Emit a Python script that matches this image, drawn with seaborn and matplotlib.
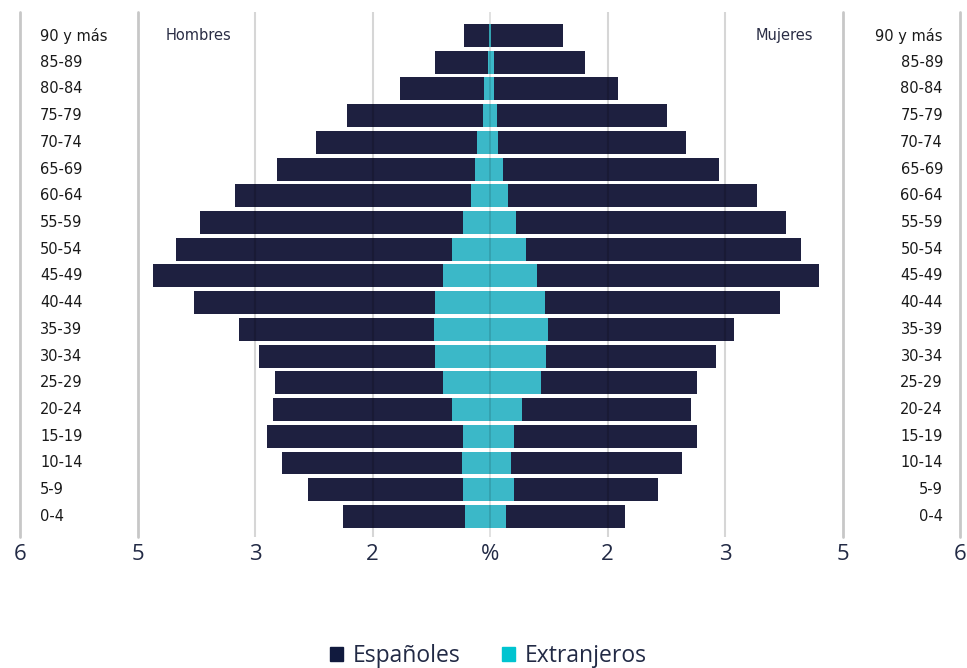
import numpy as np
import pandas as pd
import seaborn as sns
import matplotlib.pyplot as plt
from matplotlib.patches import Patch

# Grupos de edad (de arriba a abajo)
grupos = [
    "90 y más", "85-89", "80-84", "75-79", "70-74", "65-69", "60-64",
    "55-59", "50-54", "45-49", "40-44", "35-39", "30-34", "25-29",
    "20-24", "15-19", "10-14", "5-9", "0-4",
]

# Valores (unidades de la escala del eje)
hombres_ext = [0.01, 0.02, 0.05, 0.06, 0.11, 0.13, 0.16, 0.23, 0.32, 0.40,
               0.47, 0.48, 0.47, 0.40, 0.32, 0.23, 0.24, 0.23, 0.21]
hombres_esp = [0.21, 0.45, 0.72, 1.16, 1.37, 1.68, 2.01, 2.24, 2.35, 2.47,
               2.05, 1.66, 1.50, 1.43, 1.53, 1.67, 1.53, 1.32, 1.04]
mujeres_ext = [0.01, 0.03, 0.03, 0.06, 0.07, 0.11, 0.15, 0.22, 0.31, 0.40,
               0.47, 0.49, 0.48, 0.43, 0.27, 0.20, 0.18, 0.20, 0.14]
mujeres_esp = [0.61, 0.78, 1.06, 1.45, 1.60, 1.84, 2.12, 2.30, 2.34, 2.40,
               2.00, 1.59, 1.44, 1.33, 1.44, 1.56, 1.45, 1.23, 1.01]

ticks = [-4, -3, -2, -1, 0, 1, 2, 3, 4]
tick_labels = ["6", "5", "3", "2", "%", "2", "3", "5", "6"]

df = pd.DataFrame({
    "grupo": grupos,
    "h_ext": hombres_ext,
    "h_esp": hombres_esp,
    "m_ext": mujeres_ext,
    "m_esp": mujeres_esp,
})
df["h_total"] = -(df["h_ext"] + df["h_esp"])
df["h_ext_neg"] = -df["h_ext"]
df["m_total"] = df["m_ext"] + df["m_esp"]

NAVY = "#1e2040"
CIAN = "#3bb8c8"
TEXTO = "#222a45"

sns.set_style("white")
plt.rcParams["font.family"] = ["DejaVu Sans"]

fig = plt.figure(figsize=(9.67, 6.68), dpi=100)
ax = fig.add_axes([20 / 967, 1 - 537 / 668, 940 / 967, 525 / 668])

for col, color in [("h_total", NAVY), ("m_total", NAVY),
                   ("h_ext_neg", CIAN), ("m_ext", CIAN)]:
    sns.barplot(data=df, x=col, y="grupo", order=grupos, orient="h",
                color=color, saturation=1, width=0.86, errorbar=None,
                linewidth=0, edgecolor="none", ax=ax)

ax.set_xlim(-4, 4)
ax.set_ylim(18.77, -0.88)
ax.set_xlabel("")
ax.set_ylabel("")
ax.set_yticks([])
ax.set_xticks(ticks)
ax.set_xticklabels(tick_labels, fontsize=16, color=TEXTO, family=["Open Sans", "DejaVu Sans"])
ax.tick_params(axis="x", length=0, pad=5)
for s in ax.spines.values():
    s.set_visible(False)

# lineas de cuadricula por encima de las barras
for t in ticks:
    if abs(t) >= 3:
        ax.axvline(t, color="black", alpha=0.22, lw=2, zorder=5, clip_on=False)
    elif t == 0:
        ax.axvline(t, color="black", alpha=0.14, lw=1.2, zorder=5)
    else:
        ax.axvline(t, color="black", alpha=0.16, lw=1.5, zorder=5)

# etiquetas de grupos a ambos lados
for i, g in enumerate(grupos):
    ax.text(-3.83, i, g, ha="left", va="center", fontsize=10.5, color="#1a1a1a")
    ax.text(3.855, i, g, ha="right", va="center", fontsize=10.5, color="#1a1a1a")

ax.text(-2.757, 0, "Hombres", ha="left", va="center", fontsize=10.5, color="#2a2d45")
ax.text(2.749, 0, "Mujeres", ha="right", va="center", fontsize=10.5, color="#2a2d45")

handles = [Patch(color="#111a3e", label="Españoles"),
           Patch(color="#00c4d0", label="Extranjeros")]
fig.legend(handles=handles, loc="center", bbox_to_anchor=(488 / 967, 1 - 656 / 668),
           ncol=2, frameon=False, handlelength=0.6, handleheight=0.6,
           handletextpad=0.4, columnspacing=1.8,
           prop={"family": ["Open Sans", "DejaVu Sans"], "size": 16.5},
           labelcolor=TEXTO)

fig.savefig("out.png", dpi=100)
